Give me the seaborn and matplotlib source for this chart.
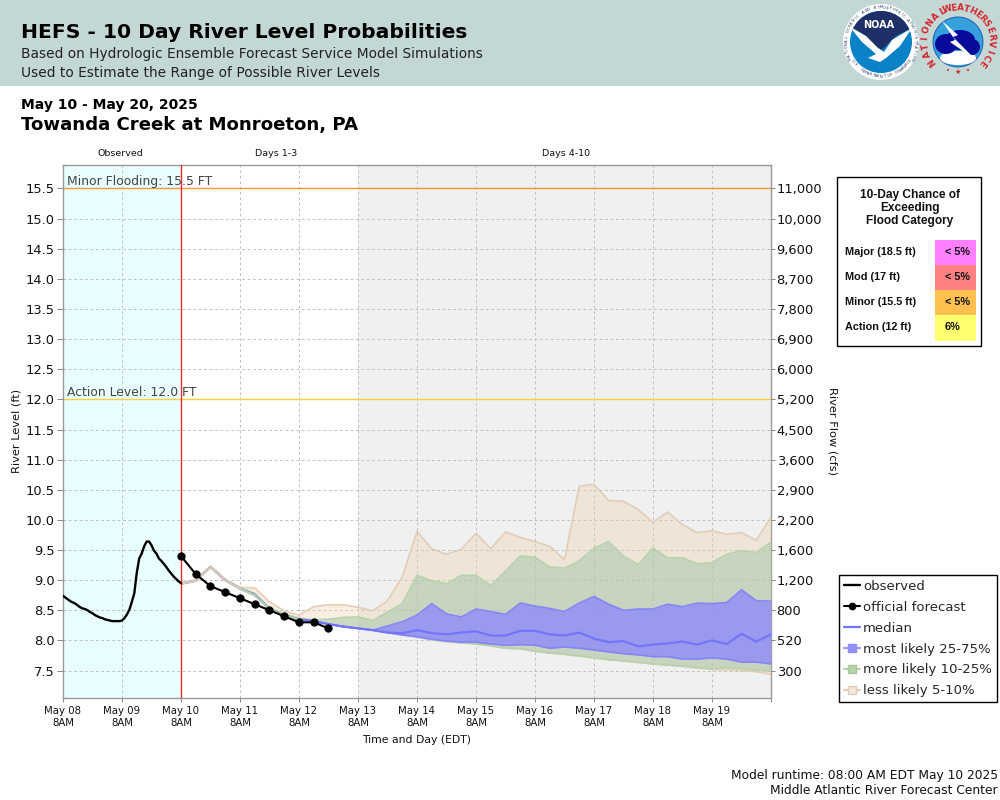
# -*- coding: utf-8 -*-
import numpy as np
import pandas as pd
import matplotlib
matplotlib.use('Agg')
import matplotlib.pyplot as plt
from matplotlib.lines import Line2D
from matplotlib.patches import Rectangle, Circle, Polygon, Ellipse
import seaborn as sns

# observed stage, hourly from May 08 8AM
observed = [8.74, 8.71, 8.68, 8.65, 8.63, 8.61, 8.58, 8.55, 8.53, 8.52, 8.50, 8.47,
            8.45, 8.42, 8.40, 8.38, 8.37, 8.35, 8.34, 8.33, 8.32, 8.32, 8.32, 8.32,
            8.33, 8.37, 8.43, 8.51, 8.64, 8.78, 9.12, 9.36, 9.44, 9.56, 9.64, 9.64,
            9.58, 9.49, 9.44, 9.36, 9.32, 9.27, 9.22, 9.16, 9.11, 9.06, 9.02, 8.98, 8.95]

# official forecast, 6 hourly from May 10 8AM
official = [9.4, 9.1, 8.9, 8.8, 8.7, 8.6, 8.5, 8.4, 8.3, 8.3, 8.2]

# HEFS percentiles, 6 hourly from May 10 8AM
p05 = [8.95, 9.00, 9.23, 9.01, 8.88, 8.87, 8.64, 8.49, 8.42, 8.56, 8.59, 8.59,
       8.55, 8.49, 8.66, 9.05, 9.81, 9.52, 9.43, 9.51, 9.78, 9.52, 9.80, 9.71, 9.64,
       9.56, 9.34, 10.56, 10.59, 10.32, 10.31, 10.17, 9.96, 10.13, 9.92, 9.79, 9.82,
       9.76, 9.79, 9.66, 10.04]
p10 = [8.95, 9.00, 9.23, 9.01, 8.87, 8.78, 8.54, 8.44, 8.37, 8.34, 8.35, 8.38,
       8.39, 8.33, 8.47, 8.61, 9.08, 8.99, 8.94, 9.08, 9.08, 8.91, 9.15, 9.40, 9.38,
       9.22, 9.20, 9.32, 9.53, 9.64, 9.40, 9.26, 9.53, 9.37, 9.37, 9.27, 9.29,
       9.43, 9.49, 9.46, 9.63]
p25 = [8.94, 8.99, 9.22, 9.00, 8.86, 8.76, 8.52, 8.41, 8.35, 8.32, 8.27, 8.23,
       8.20, 8.17, 8.24, 8.31, 8.42, 8.61, 8.44, 8.39, 8.52, 8.48, 8.43, 8.62, 8.57,
       8.53, 8.48, 8.62, 8.73, 8.60, 8.50, 8.52, 8.52, 8.60, 8.56, 8.62, 8.61,
       8.63, 8.84, 8.66, 8.65]
p50 = [8.94, 8.99, 9.22, 9.00, 8.86, 8.76, 8.52, 8.41, 8.35, 8.32, 8.27, 8.23,
       8.20, 8.17, 8.13, 8.12, 8.17, 8.12, 8.10, 8.13, 8.15, 8.08, 8.08, 8.16, 8.16,
       8.10, 8.08, 8.13, 8.03, 7.97, 7.99, 7.90, 7.93, 7.95, 7.98, 7.93, 8.00,
       7.94, 8.11, 7.98, 8.10]
p75 = [8.94, 8.99, 9.22, 9.00, 8.86, 8.76, 8.52, 8.41, 8.35, 8.32, 8.27, 8.23,
       8.20, 8.17, 8.13, 8.09, 8.06, 8.02, 7.99, 7.97, 7.97, 7.94, 7.92, 7.93, 7.92,
       7.87, 7.89, 7.87, 7.84, 7.81, 7.78, 7.76, 7.73, 7.73, 7.69, 7.69, 7.71,
       7.69, 7.64, 7.64, 7.61]
p90 = [8.94, 8.99, 9.22, 9.00, 8.86, 8.75, 8.52, 8.41, 8.35, 8.32, 8.27, 8.23,
       8.20, 8.17, 8.13, 8.09, 8.06, 8.01, 7.98, 7.96, 7.94, 7.91, 7.87, 7.86, 7.82,
       7.79, 7.77, 7.74, 7.71, 7.68, 7.66, 7.64, 7.61, 7.59, 7.57, 7.55, 7.53,
       7.55, 7.53, 7.51, 7.49]
p95 = [8.94, 8.99, 9.22, 9.00, 8.86, 8.74, 8.52, 8.41, 8.35, 8.32, 8.27, 8.23,
       8.20, 8.17, 8.13, 8.09, 8.06, 8.01, 7.98, 7.96, 7.94, 7.91, 7.87, 7.86, 7.82,
       7.79, 7.77, 7.74, 7.71, 7.68, 7.66, 7.63, 7.61, 7.59, 7.57, 7.54, 7.52,
       7.51, 7.50, 7.48, 7.44]

level_ticks = [7.5, 8.0, 8.5, 9.0, 9.5, 10.0, 10.5, 11.0, 11.5, 12.0, 12.5, 13.0, 13.5,
               14.0, 14.5, 15.0, 15.5]
flow_labels = ['300', '520', '800', '1,200', '1,600', '2,200', '2,900', '3,600', '4,500',
               '5,200', '6,000', '6,900', '7,800', '8,700', '9,600', '10,000', '11,000']
day_labels = ['May 08', 'May 09', 'May 10', 'May 11', 'May 12', 'May 13', 'May 14',
              'May 15', 'May 16', 'May 17', 'May 18', 'May 19']

flood_names = ['Major (18.5 ft)', 'Mod (17 ft)', 'Minor (15.5 ft)', 'Action (12 ft)']
flood_chances = ['< 5%', '< 5%', '< 5%', '6%']
flood_colors = ['#ff80ff', '#ff8080', '#ffc050', '#ffff70']

TAN, TAN_EDGE = '#edcfad', '#e3cdb6'
GREEN, GREEN_EDGE = '#a1c6aa', '#b6d3ab'
BLUE, BLUE_EDGE = '#8883ff', '#8585f5'

start = pd.Timestamp('2025-05-08 08:00')
fc_start = pd.Timestamp('2025-05-10 08:00')
df_obs = pd.DataFrame({'time': pd.date_range(start, periods=len(observed), freq='h'), 'level': observed})
df_off = pd.DataFrame({'time': pd.date_range(fc_start, periods=len(official), freq='6h'), 'level': official})
df_ens = pd.DataFrame({'time': pd.date_range(fc_start, periods=len(p50), freq='6h'),
                       'p05': p05, 'p10': p10, 'p25': p25, 'p50': p50, 'p75': p75, 'p90': p90, 'p95': p95})

sns.set_theme(style='ticks')
plt.rcParams['font.family'] = ['DejaVu Sans']

fig = plt.figure(figsize=(10, 8), dpi=100)

# overlay in pixel coordinates for header, titles and table
page = fig.add_axes([0, 0, 1, 1], zorder=0)
page.set_xlim(0, 1000)
page.set_ylim(800, 0)
page.axis('off')

ax = fig.add_axes([63 / 1000, 1 - 698 / 800, 708 / 1000, 533 / 800], zorder=1)
ax.set_facecolor('none')


def arc_text(s, cx, cy, r, a0, a1, color, size, bottom=False, weight='normal'):
    for ch, a in zip(s, np.linspace(a0, a1, len(s))):
        t = np.radians(a)
        rot = -a + 180 if bottom else -a
        page.text(cx + r * np.sin(t), cy - r * np.cos(t), ch, color=color, fontsize=size,
                  rotation=rot, ha='center', va='center', fontweight=weight,
                  rotation_mode='anchor')


# header
page.add_patch(Rectangle((0, 0), 1000, 86, color='#c3d7d5', lw=0))
page.text(21, 33, 'HEFS - 10 Day River Level Probabilities', fontsize=14.6, fontweight='bold', va='center', color='black')
page.text(21, 54, 'Based on Hydrologic Ensemble Forecast Service Model Simulations', fontsize=9.9, va='center', color='#222222')
page.text(21, 73, 'Used to Estimate the Range of Possible River Levels', fontsize=9.9, va='center', color='#222222')
page.text(21, 105, 'May 10 - May 20, 2025', fontsize=10, fontweight='bold', va='center', color='black')
page.text(21, 125, 'Towanda Creek at Monroeton, PA', fontsize=13.1, fontweight='bold', va='center', color='black')

# NOAA logo
page.add_patch(Circle((881, 42), 38, color='white', lw=0))
inner = Circle((881, 42), 31, color='#0a82c8', lw=0)
page.add_patch(inner)
navy = Polygon([(850, 10), (912, 10), (912, 28), (896, 36), (882, 50), (868, 42), (850, 28)], color='#1f3068', lw=0)
page.add_patch(navy)
navy.set_clip_path(inner)
bird = Polygon([(849, 26), (866, 36), (878, 48), (884, 52), (892, 40), (912, 28), (900, 46), (886, 58),
                (880, 62), (868, 58), (876, 54), (862, 42)], color='white', lw=0)
page.add_patch(bird)
bird.set_clip_path(inner)
page.text(879, 25, 'NOAA', color='white', fontsize=7, fontweight='bold', ha='center', va='center')
arc_text('NATIONAL OCEANIC AND ATMOSPHERIC ADMINISTRATION', 881, 42, 34.5, -118, 118, '#1f3068', 2.6)
arc_text('U.S. DEPARTMENT OF COMMERCE', 881, 42, 34.5, 238, 122, '#1f3068', 2.6, bottom=True)

# NWS logo
page.add_patch(Circle((958, 42), 25, fc='#36a0dc', ec='#1a4fa8', lw=0.6))
page.add_patch(Ellipse((958, 58), 36, 14, color='white', lw=0))
page.add_patch(Ellipse((946, 44), 22, 20, color='#0a0a9a', lw=0))
page.add_patch(Ellipse((960, 40), 30, 20, color='#0a0a9a', lw=0))
page.add_patch(Ellipse((972, 47), 16, 16, color='#0a0a9a', lw=0))
page.add_patch(Polygon([(942, 21), (958, 35), (953, 37), (976, 60), (950, 42), (955, 40)], color='white', lw=0))
arc_text('NATIONAL', 958, 41, 33, -128, -28, '#d8232a', 6.2, weight='bold')
arc_text('WEATHER', 958, 41, 33, -18, 48, '#d8232a', 6.2, weight='bold')
arc_text('SERVICE', 958, 41, 33, 58, 132, '#d8232a', 6.2, weight='bold')
page.text(958, 72, '★', color='#d8232a', fontsize=5, ha='center', va='center')
page.text(948, 71, '•', color='#d8232a', fontsize=5, ha='center', va='center')
page.text(968, 71, '•', color='#d8232a', fontsize=5, ha='center', va='center')

# background periods
ax.axvspan(start, fc_start, color='#e9ffff', lw=0, zorder=0)
ax.axvspan(pd.Timestamp('2025-05-13 08:00'), pd.Timestamp('2025-05-20 08:00'), color='#f0f0f0', lw=0, zorder=0)

# ensemble bands
ax.fill_between(df_ens['time'], df_ens['p95'], df_ens['p05'], color=TAN, alpha=0.35, lw=0, zorder=3)
ax.fill_between(df_ens['time'], df_ens['p90'], df_ens['p10'], color=GREEN, alpha=0.5, lw=0, zorder=4)
ax.fill_between(df_ens['time'], df_ens['p75'], df_ens['p25'], color=BLUE, alpha=0.72, lw=0, zorder=5)
for col, c, z in [('p05', TAN_EDGE, 3.5), ('p95', TAN_EDGE, 3.5), ('p10', GREEN_EDGE, 4.5),
                  ('p90', GREEN_EDGE, 4.5), ('p25', BLUE_EDGE, 5.5), ('p75', BLUE_EDGE, 5.5)]:
    sns.lineplot(data=df_ens, x='time', y=col, color=c, lw=1.2, ax=ax, zorder=z, errorbar=None)
sns.lineplot(data=df_ens, x='time', y='p50', color='#7474fb', lw=1.6, ax=ax, zorder=6, errorbar=None)
# where the members still agree the tan and green edges lie on top
sns.lineplot(data=df_ens.iloc[4:9], x='time', y='p90', color=GREEN_EDGE, lw=1.5, ax=ax, zorder=6.5, errorbar=None)
sns.lineplot(data=df_ens.iloc[:5], x='time', y='p95', color='#d8c8b4', lw=1.7, ax=ax, zorder=6.6, errorbar=None)

# observed and official forecast
sns.lineplot(data=df_obs, x='time', y='level', color='black', lw=1.7, ax=ax, zorder=8, errorbar=None)
sns.lineplot(data=df_off, x='time', y='level', color='black', lw=1.5, marker='o', ms=5.2,
             markeredgecolor='black', ax=ax, zorder=8, errorbar=None)

# flood levels and forecast start
ax.axhline(15.5, color='#ff9a2e', lw=1.0, zorder=2)
ax.axhline(12.0, color='#f7cf3a', lw=1.0, zorder=2)
ax.axvline(fc_start, color='#ee2626', lw=1.0, zorder=7)
ax.text(pd.Timestamp('2025-05-08 09:30'), 15.62, 'Minor Flooding: 15.5 FT', fontsize=8.9, color='#444444', va='center', zorder=9)
ax.text(pd.Timestamp('2025-05-08 09:30'), 12.12, 'Action Level: 12.0 FT', fontsize=8.9, color='#444444', va='center', zorder=9)

# axes
ax.set_xlim(start, pd.Timestamp('2025-05-20 08:00'))
ax.set_ylim(7.044, 15.89)
ax.set_xlabel('')
ax.set_ylabel('')
day_ticks = pd.date_range(start, periods=13, freq='D')
ax.set_xticks(day_ticks)
ax.set_xticklabels([f'{d}\n8AM' for d in day_labels] + [''], fontsize=7.3, color='#111111')
ax.set_yticks(level_ticks)
ax.set_yticklabels([f'{v:.1f}' for v in level_ticks], fontsize=9.4, color='#111111')
ax.tick_params(axis='both', length=3, width=0.7, color='#888888', pad=3)
ax.tick_params(axis='y', length=4, pad=2)
ax.grid(True, linestyle=(0, (3, 3)), color='#bcbcbc', lw=0.65, zorder=1)
ax.set_axisbelow(True)
for sp in ax.spines.values():
    sp.set_visible(True)
    sp.set_color('#999999')
    sp.set_linewidth(1.0)

ax2 = ax.twinx()
ax2.set_ylim(ax.get_ylim())
ax2.set_yticks(level_ticks)
ax2.set_yticklabels(flow_labels, fontsize=9.4, color='#111111')
ax2.tick_params(axis='y', length=3, width=0.7, color='#888888', pad=1)
for sp in ax2.spines.values():
    sp.set_visible(False)

# axis titles and section labels
page.text(120, 153, 'Observed', fontsize=6.8, ha='center', va='center', color='#111111')
page.text(276, 153, 'Days 1-3', fontsize=6.8, ha='center', va='center', color='#111111')
page.text(566, 153, 'Days 4-10', fontsize=6.8, ha='center', va='center', color='#111111')
page.text(417, 740, 'Time and Day (EDT)', fontsize=7.8, ha='center', va='center', color='#111111')
page.text(17, 431, 'River Level (ft)', fontsize=8.2, rotation=90, ha='center', va='center', color='#111111')
page.text(832, 431, 'River Flow (cfs)', fontsize=8.2, rotation=270, ha='center', va='center', color='#111111')
page.text(998, 775, 'Model runtime: 08:00 AM EDT May 10 2025', fontsize=8.8, ha='right', va='center', color='#111111')
page.text(998, 791, 'Middle Atlantic River Forecast Center', fontsize=8.8, ha='right', va='center', color='#111111')

# flood category table
page.add_patch(Rectangle((836.5, 176.5), 144, 169, fc='white', ec='black', lw=1.0))
for i, line in enumerate(['10-Day Chance of', 'Exceeding', 'Flood Category']):
    page.text(910, 195 + i * 13, line, fontfamily='Liberation Sans', fontweight='bold', fontsize=8.6,
              ha='center', va='center', color='#111111')
for i, (name, chance, col) in enumerate(zip(flood_names, flood_chances, flood_colors)):
    y0 = 240 + i * 25
    page.add_patch(Rectangle((935, y0), 41, 25 if i < 3 else 26, color=col, lw=0))
    page.text(845, y0 + 12, name, fontfamily='Liberation Sans', fontweight='bold', fontsize=7.8, va='center', color='#111111')
    page.text(945, y0 + 12, chance, fontfamily='Liberation Sans', fontweight='bold', fontsize=7.8, va='center', color='#111111')

# legend
handles = [
    Line2D([], [], color='black', lw=1.7),
    Line2D([], [], color='black', lw=1.5, marker='o', ms=4.5),
    Line2D([], [], color='#7474fb', lw=1.6),
    Line2D([], [], color='#9c9cf8', lw=1.6, marker='s', ms=5.5, mfc='#8f8ff5', mec='#8f8ff5'),
    Line2D([], [], color='#b6d3ab', lw=1.6, marker='s', ms=5.5, mfc='#b6d3ab', mec='#a8c89c'),
    Line2D([], [], color='#e3cdb6', lw=1.6, marker='s', ms=5.5, mfc='#efe6dc', mec='#e3cdb6'),
]
labels = ['observed', 'official forecast', 'median', 'most likely 25-75%', 'more likely 10-25%', 'less likely 5-10%']
leg = fig.legend(handles, labels, loc='upper left', bbox_to_anchor=(839 / 1000, 1 - 575 / 800), fontsize=9.5,
                 frameon=True, fancybox=False, framealpha=1, edgecolor='black', facecolor='white',
                 handlelength=1.2, handletextpad=0.25, labelspacing=0.6, borderpad=0.36, borderaxespad=0)
leg.get_frame().set_linewidth(1.0)
leg.set_zorder(10)

fig.savefig('out.png', dpi=100)
